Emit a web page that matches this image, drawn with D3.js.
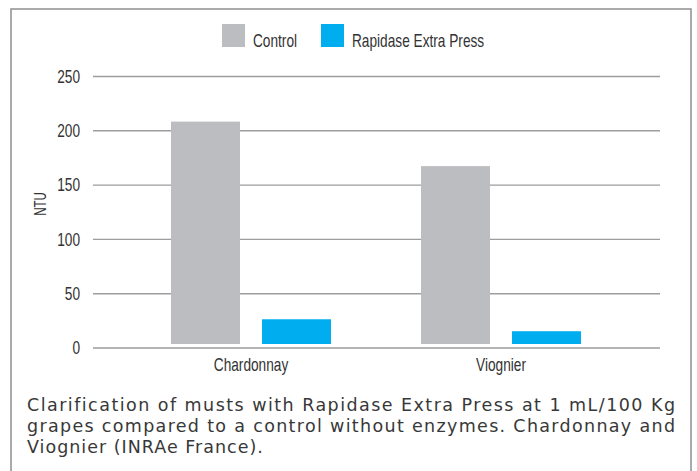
<!DOCTYPE html>
<html>
<head>
<meta charset="utf-8">
<script src="https://cdn.jsdelivr.net/npm/d3@7"></script>
<style>
  body { margin: 0; background: #fff; }
  svg { display: block; }
  .cond { font-family: "Liberation Sans", Arial, sans-serif; fill: #333; }
</style>
</head>
<body>
<div id="chart"></div>
<script>
// Data
const categories = ["Chardonnay", "Viognier"];
const seriesNames = ["Control", "Rapidase Extra Press"];
const controlValues = [208, 167];
const rapidaseValues = [26, 15];
const yTicks = [0, 50, 100, 150, 200, 250];
const yLabel = "NTU";
const captionLines = [
  "Clarification of musts with Rapidase Extra Press at 1 mL/100 Kg",
  "grapes compared to a control without enzymes. Chardonnay and",
  "Viognier (INRAe France)."
];
const colors = ["#bcbdc0", "#00aeef"];

const width = 697;
const height = 471;
// no condensed font installed, so squeeze the labels sideways
const squeeze = 0.76;

const svg = d3
  .select("#chart")
  .append("svg")
  .attr("width", width)
  .attr("height", height);

// frame (open at the bottom)
svg
  .append("rect")
  .attr("x", 11)
  .attr("y", 9)
  .attr("width", 680)
  .attr("height", 480)
  .attr("fill", "none")
  .attr("stroke", "#8c8e90")
  .attr("stroke-width", 1.5);

// Scales
const yScale = d3.scaleLinear().domain([0, 250]).range([347.5, 76]);

const x0 = d3
  .scaleBand()
  .domain(categories)
  .range([126, 626])
  .paddingInner(0.36)
  .paddingOuter(0.18);

const x1 = d3
  .scaleBand()
  .domain(seriesNames)
  .range([0, x0.bandwidth()])
  .paddingInner(0.242)
  .paddingOuter(0);

// Grid + y axis labels
const yAxis = svg
  .append("g")
  .attr("transform", "translate(93,0)")
  .call(
    d3
      .axisLeft(yScale)
      .tickValues(yTicks)
      .tickSize(-567)
      .tickFormat(d3.format("d"))
  );
yAxis.select(".domain").remove();
yAxis.selectAll(".tick line").attr("stroke", "#9d9d9f").attr("stroke-width", 1.4);
yAxis
  .selectAll(".tick text")
  .attr("class", "cond")
  .style("font-size", "18px")
  .attr("x", 0)
  .attr("dy", "0.35em")
  .attr("transform", `translate(-13,0) scale(${squeeze},1)`);

svg
  .append("text")
  .attr("class", "cond")
  .attr("transform", "translate(45.5,204) rotate(-90) scale(0.68,1)")
  .attr("text-anchor", "middle")
  .style("font-size", "17px")
  .text(yLabel);

// Bars
const rows = categories.map((c, i) => ({
  category: c,
  values: [
    { series: seriesNames[0], value: controlValues[i] },
    { series: seriesNames[1], value: rapidaseValues[i] },
  ],
}));

const baseGap = 3.5;

svg
  .selectAll(".group")
  .data(rows)
  .enter()
  .append("g")
  .attr("transform", (d) => `translate(${x0(d.category)},0)`)
  .selectAll("rect")
  .data((d) => d.values)
  .enter()
  .append("rect")
  .attr("x", (d) => x1(d.series))
  .attr("width", x1.bandwidth())
  .attr("y", (d) => yScale(d.value))
  .attr("height", (d) => yScale(0) - baseGap - yScale(d.value))
  .style("fill", (d, i) => colors[i]);

// Category labels
const xAxis = svg
  .append("g")
  .attr("transform", `translate(0,${yScale(0)})`)
  .call(d3.axisBottom(x0).tickSize(0).tickPadding(11));
xAxis.select(".domain").remove();
xAxis
  .selectAll(".tick text")
  .attr("class", "cond")
  .style("font-size", "18px")
  .attr("transform", `scale(${squeeze},1)`);

// Legend
const legend = svg
  .selectAll(".legend")
  .data(seriesNames)
  .enter()
  .append("g")
  .attr("transform", (d, i) => `translate(${[222, 321][i]},24)`);

legend
  .append("rect")
  .attr("width", 23)
  .attr("height", 23)
  .style("fill", (d, i) => colors[i]);

legend
  .append("text")
  .attr("class", "cond")
  .attr("transform", `translate(31,22.5) scale(${squeeze},1)`)
  .style("font-size", "18px")
  .text((d) => d);

// Caption
svg
  .selectAll(".caption")
  .data(captionLines)
  .enter()
  .append("text")
  .attr("x", 27)
  .attr("y", (d, i) => 410.5 + i * 21)
  .style("font-family", "'DejaVu Sans', sans-serif")
  .style("font-size", "17.5px")
  .style("letter-spacing", "1px")
  .style("fill", "#383838")
  .each(function (d, i) {
    if (i < captionLines.length - 1) {
      d3.select(this).attr("textLength", 649).attr("lengthAdjust", "spacing");
    }
  })
  .text((d) => d);
</script>
</body>
</html>
